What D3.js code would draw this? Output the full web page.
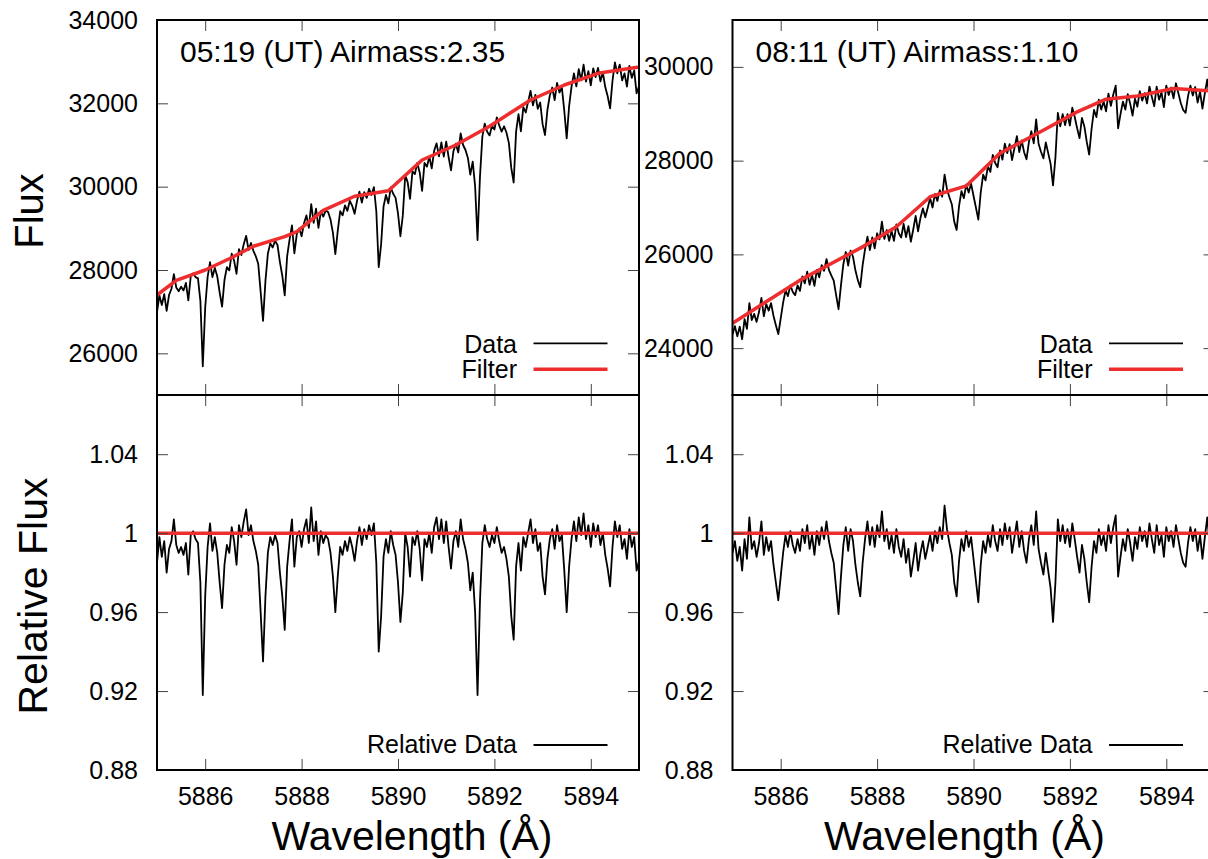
<!DOCTYPE html>
<html>
<head>
<meta charset="utf-8">
<script src="https://cdn.jsdelivr.net/npm/d3@7"></script>
<style>
  body { margin: 0; background: #fff; }
  svg { display: block; font-family: "Liberation Sans", Arial, Helvetica, sans-serif; }
</style>
</head>
<body>
<svg id="chart" width="1208" height="859"></svg>
<script>
// wavelength grid shared by all four spectra (Angstrom)
const wavelength = [
  5885.00, 5885.05, 5885.10, 5885.15, 5885.20, 5885.25, 5885.30, 5885.35, 5885.40, 5885.45,
  5885.50, 5885.55, 5885.60, 5885.65, 5885.70, 5885.75, 5885.80, 5885.85, 5885.90, 5885.95,
  5886.00, 5886.05, 5886.10, 5886.15, 5886.20, 5886.25, 5886.30, 5886.35, 5886.40, 5886.45,
  5886.50, 5886.55, 5886.60, 5886.65, 5886.70, 5886.75, 5886.80, 5886.85, 5886.90, 5886.95,
  5887.00, 5887.05, 5887.10, 5887.15, 5887.20, 5887.25, 5887.30, 5887.35, 5887.40, 5887.45,
  5887.50, 5887.55, 5887.60, 5887.65, 5887.70, 5887.75, 5887.80, 5887.85, 5887.90, 5887.95,
  5888.00, 5888.05, 5888.10, 5888.15, 5888.20, 5888.25, 5888.30, 5888.35, 5888.40, 5888.45,
  5888.50, 5888.55, 5888.60, 5888.65, 5888.70, 5888.75, 5888.80, 5888.85, 5888.90, 5888.95,
  5889.00, 5889.05, 5889.10, 5889.15, 5889.20, 5889.25, 5889.30, 5889.35, 5889.40, 5889.45,
  5889.50, 5889.55, 5889.60, 5889.65, 5889.70, 5889.75, 5889.80, 5889.85, 5889.90, 5889.95,
  5890.00, 5890.05, 5890.10, 5890.15, 5890.20, 5890.25, 5890.30, 5890.35, 5890.40, 5890.45,
  5890.50, 5890.55, 5890.60, 5890.65, 5890.70, 5890.75, 5890.80, 5890.85, 5890.90, 5890.95,
  5891.00, 5891.05, 5891.10, 5891.15, 5891.20, 5891.25, 5891.30, 5891.35, 5891.40, 5891.45,
  5891.50, 5891.55, 5891.60, 5891.65, 5891.70, 5891.75, 5891.80, 5891.85, 5891.90, 5891.95,
  5892.00, 5892.05, 5892.10, 5892.15, 5892.20, 5892.25, 5892.30, 5892.35, 5892.40, 5892.45,
  5892.50, 5892.55, 5892.60, 5892.65, 5892.70, 5892.75, 5892.80, 5892.85, 5892.90, 5892.95,
  5893.00, 5893.05, 5893.10, 5893.15, 5893.20, 5893.25, 5893.30, 5893.35, 5893.40, 5893.45,
  5893.50, 5893.55, 5893.60, 5893.65, 5893.70, 5893.75, 5893.80, 5893.85, 5893.90, 5893.95,
  5894.00, 5894.05, 5894.10, 5894.15, 5894.20, 5894.25, 5894.30, 5894.35, 5894.40, 5894.45,
  5894.50, 5894.55, 5894.60, 5894.65, 5894.70, 5894.75, 5894.80, 5894.85, 5894.90, 5894.95,
  5895.00
];

// 05:19 UT, airmass 2.35
const fluxLeft = [
  26990, 27390, 27160, 27420, 27020, 27400, 27550, 27900, 27580, 27490,
  27600, 27510, 27690, 27270, 27850, 27920, 27830, 27800, 27260, 25690,
  27100, 27830, 28190, 27830, 28050, 27850, 27460, 27120, 27760, 28070,
  27990, 28390, 28220, 27910, 28500, 28360, 28620, 28820, 28480, 28650,
  28460, 28330, 28150, 27480, 26780, 27740, 28390, 28640, 28540, 28700,
  28600, 28190, 27860, 27390, 28330, 28730, 29070, 28400, 28860, 29000,
  28810, 29120, 29310, 29010, 29580, 29130, 29470, 29010, 29410, 29280,
  29430, 29390, 29210, 28890, 28380, 28940, 29410, 29310, 29550, 29420,
  29660, 29540, 29350, 29660, 29880, 29620, 29870, 29730, 29950, 29800,
  29990, 29410, 28070, 28620, 29520, 29800, 29600, 29980, 29830, 29730,
  29360, 28810, 29310, 30270, 30110, 29710, 30370, 30300, 30570, 30340,
  29900, 30570, 30480, 30720, 30440, 30860, 31040, 30730, 31060, 30720,
  31080, 30710, 30390, 30850, 31030, 30820, 31280, 31000, 30880, 30690,
  30290, 30600, 30010, 28720, 30220, 31200, 31510, 31320, 31230, 31460,
  31370, 31660, 31470, 31320, 31450, 31300, 31050, 30450, 30100, 31320,
  31740, 31330, 31910, 31780, 32040, 32300, 31950, 32200, 31870, 32020,
  31500, 31240, 31840, 32190, 32380, 32080, 32490, 32260, 32380, 31820,
  31160, 31930, 32400, 32720, 32410, 32820, 32550, 32930, 32520, 32770,
  32430, 32840, 32630, 32850, 32530, 32740, 32390, 32170, 31880, 32540,
  32980, 32720, 32930, 32550, 32720, 32400, 32900, 32610, 32790, 32240,
  32410
];
const relLeft = [
  0.985, 0.998, 0.988, 0.996, 0.980, 0.992, 0.996, 1.007, 0.994, 0.990,
  0.993, 0.989, 0.995, 0.979, 0.999, 1.001, 0.997, 0.995, 0.975, 0.918,
  0.968, 0.993, 1.005, 0.991, 0.998, 0.990, 0.975, 0.962, 0.984, 0.994,
  0.990, 1.003, 0.996, 0.984, 1.004, 0.998, 1.006, 1.012, 0.999, 1.004,
  0.996, 0.991, 0.984, 0.960, 0.935, 0.968, 0.990, 0.998, 0.994, 0.999,
  0.995, 0.980, 0.968, 0.951, 0.983, 0.996, 1.007, 0.983, 0.998, 1.001,
  0.993, 1.002, 1.007, 0.995, 1.013, 0.996, 1.006, 0.989, 1.001, 0.995,
  0.999, 0.997, 0.990, 0.978, 0.960, 0.978, 0.993, 0.989, 0.996, 0.991,
  0.998, 0.993, 0.986, 0.996, 1.003, 0.994, 1.002, 0.997, 1.004, 0.999,
  1.005, 0.985, 0.940, 0.958, 0.988, 0.997, 0.990, 1.001, 0.994, 0.989,
  0.975, 0.955, 0.970, 1.000, 0.993, 0.978, 0.998, 0.994, 1.001, 0.992,
  0.976, 0.997, 0.993, 1.000, 0.990, 1.003, 1.008, 0.997, 1.007, 0.995,
  1.006, 0.993, 0.982, 0.996, 1.001, 0.993, 1.007, 0.997, 0.992, 0.985,
  0.971, 0.980, 0.960, 0.918, 0.965, 0.995, 1.004, 0.997, 0.993, 0.999,
  0.995, 1.003, 0.996, 0.990, 0.993, 0.987, 0.978, 0.958, 0.946, 0.983,
  0.995, 0.981, 0.998, 0.993, 1.000, 1.007, 0.995, 1.002, 0.991, 0.995,
  0.978, 0.969, 0.987, 0.997, 1.002, 0.992, 1.004, 0.996, 0.999, 0.981,
  0.960, 0.983, 0.997, 1.006, 0.996, 1.008, 0.999, 1.010, 0.997, 1.004,
  0.993, 1.005, 0.998, 1.004, 0.994, 1.000, 0.989, 0.982, 0.973, 0.993,
  1.006, 0.998, 1.004, 0.992, 0.997, 0.987, 1.002, 0.993, 0.998, 0.981,
  0.986
];
const filterLeftWl = [5885.0, 5885.4, 5886.0, 5886.5, 5887.0, 5887.65, 5887.9, 5888.45, 5889.1, 5889.8, 5890.5, 5891.2, 5891.9, 5892.75, 5893.45, 5894.15, 5895.0];
const filterLeftFlux = [27400, 27750, 28000, 28270, 28570, 28800, 28920, 29430, 29770, 29900, 30640, 31000, 31450, 32080, 32440, 32720, 32870];

// 08:11 UT, airmass 1.10
const fluxRight = [
  24290, 24470, 24250, 24460, 24190, 24620, 24410, 24960, 24600, 24730,
  24560, 24770, 25070, 24680, 24940, 24800, 24960, 24690, 24490, 24300,
  24630, 24970, 25230, 25110, 25340, 25200, 25130, 25340, 25220, 25530,
  25380, 25630, 25350, 25560, 25330, 25670, 25510, 25770, 25650, 25900,
  25670, 25550, 25440, 25130, 24830, 25340, 25790, 26050, 25760, 26080,
  25950, 25660, 25450, 25300, 25770, 26110, 26380, 26090, 26360, 26130,
  26450, 26320, 26700, 26330, 26520, 26290, 26500, 26290, 26640, 26450,
  26360, 26650, 26370, 26600, 26270, 26530, 26820, 26490, 26780, 26980,
  26790, 26990, 27200, 27000, 27290, 27140, 27370, 27230, 27700, 27390,
  27220, 27070, 26700, 26520, 27030, 27350, 27200, 27490, 27320, 27510,
  27250, 27000, 26740, 27320, 27700, 27580, 27880, 27760, 28120, 27950,
  27860, 28220, 28020, 28360, 28160, 28350, 28010, 28270, 28520, 28180,
  28430, 28180, 28030, 28400, 28630, 28370, 28880, 28360, 28190, 28050,
  28390, 28160, 27930, 27470, 28070, 29020, 28730, 28990, 28760, 28990,
  28750, 29130, 28930, 28690, 28480, 28910, 28730, 28400, 28130, 28680,
  29080, 28930, 29300, 29090, 29260, 29050, 29430, 29170, 29410, 29600,
  28690, 28990, 29260, 29090, 29420, 29220, 28960, 29320, 29150, 29480,
  29280, 29440, 29220, 29580, 29360, 29160, 29580, 29300, 29460, 29140,
  29600, 29400, 29560, 29330, 29650, 29440, 29230, 29080, 29020, 29370,
  29600, 29390, 29570, 29240, 29470, 29110, 29440, 29730, 29310, 29510,
  29330
];
const relRight = [
  0.990, 0.996, 0.986, 0.993, 0.981, 0.997, 0.987, 1.008, 0.992, 0.996,
  0.988, 0.995, 1.006, 0.989, 0.998, 0.991, 0.996, 0.984, 0.975, 0.966,
  0.978, 0.990, 0.999, 0.993, 1.001, 0.994, 0.990, 0.997, 0.991, 1.002,
  0.995, 1.004, 0.992, 0.999, 0.989, 1.001, 0.994, 1.003, 0.997, 1.006,
  0.996, 0.990, 0.985, 0.972, 0.959, 0.978, 0.994, 1.003, 0.991, 1.002,
  0.996, 0.984, 0.975, 0.968, 0.985, 0.997, 1.006, 0.994, 1.003, 0.993,
  1.004, 0.998, 1.011, 0.996, 1.002, 0.992, 0.999, 0.990, 1.002, 0.993,
  0.988, 0.997, 0.985, 0.992, 0.978, 0.986, 0.995, 0.981, 0.990, 0.996,
  0.987, 0.993, 0.999, 0.991, 1.001, 0.995, 1.003, 0.997, 1.014, 1.002,
  0.995, 0.989, 0.975, 0.968, 0.986, 0.997, 0.991, 1.001, 0.993, 0.998,
  0.987, 0.976, 0.965, 0.984, 0.996, 0.990, 0.999, 0.993, 1.004, 0.996,
  0.991, 1.002, 0.994, 1.005, 0.997, 1.003, 0.990, 0.998, 1.006, 0.993,
  1.001, 0.991, 0.985, 0.997, 1.004, 0.994, 1.011, 0.992, 0.985, 0.979,
  0.990, 0.981, 0.972, 0.955, 0.975, 1.007, 0.996, 1.004, 0.995, 1.002,
  0.993, 1.005, 0.997, 0.988, 0.980, 0.994, 0.987, 0.975, 0.965, 0.983,
  0.996, 0.990, 1.002, 0.994, 0.999, 0.991, 1.004, 0.995, 1.003, 1.009,
  0.978, 0.988, 0.997, 0.991, 1.002, 0.995, 0.986, 0.998, 0.992, 1.003,
  0.996, 1.001, 0.993, 1.005, 0.997, 0.990, 1.004, 0.994, 0.999, 0.988,
  1.003, 0.996, 1.001, 0.993, 1.004, 0.997, 0.990, 0.985, 0.983, 0.995,
  1.003, 0.996, 1.002, 0.991, 0.999, 0.987, 0.998, 1.008, 0.994, 1.001,
  0.995
];
const filterRightWl = [5885.0, 5886.4, 5887.7, 5888.4, 5889.1, 5889.85, 5890.55, 5891.4, 5892.15, 5892.75, 5893.4, 5894.15, 5895.0];
const filterRightFlux = [24530, 25450, 26160, 26590, 27230, 27460, 28160, 28620, 29040, 29310, 29380, 29540, 29480];

// relative filter (flat at unity)
const relFilterWl = [5885, 5895];
const relFilterValue = [1, 1];

// axes and labels
const titles = ['05:19 (UT) Airmass:2.35', '08:11 (UT) Airmass:1.10'];
const xTicks = [5886, 5888, 5890, 5892, 5894];
const fluxTicksLeft = [26000, 28000, 30000, 32000, 34000];
const fluxTicksRight = [24000, 26000, 28000, 30000];
const relTicks = [0.88, 0.92, 0.96, 1, 1.04];

const svg = d3.select('#chart');
const frame = {top: 20, mid: 395, bottom: 770, width: 482};
const red = '#ee2e2e';
const tickLen = 11;

const panels = [
    {left: 157, title: titles[0], flux: fluxLeft, rel: relLeft, fWl: filterLeftWl, fFlux: filterLeftFlux,
     fluxDomain: [25000, 34000], fluxTicks: fluxTicksLeft, xLabelCenter: 412},
    {left: 732.5, title: titles[1], flux: fluxRight, rel: relRight, fWl: filterRightWl, fFlux: filterRightFlux,
     fluxDomain: [23000, 31000], fluxTicks: fluxTicksRight, xLabelCenter: 964.5}
];

function styleAxis(g, size) {
    g.select('.domain').remove();
    g.selectAll('.tick line').attr('stroke', '#444').attr('stroke-width', 1);
    g.selectAll('.tick text').attr('fill', '#000').style('font-size', size + 'px')
        .style('font-family', '"Liberation Sans", Arial, Helvetica, sans-serif');
}

function drawPanel(p, k) {
    const right = p.left + frame.width;
    const x = d3.scaleLinear().domain([5885, 5895]).range([p.left, right]);
    const yTop = d3.scaleLinear().domain(p.fluxDomain).range([frame.mid, frame.top]);
    const yBot = d3.scaleLinear().domain([0.88, 1.07]).range([frame.bottom, frame.mid]);

    const clipId = 'clip' + k;
    svg.append('clipPath').attr('id', clipId).append('rect')
        .attr('x', p.left).attr('y', frame.top)
        .attr('width', frame.width).attr('height', frame.bottom - frame.top);

    const plot = svg.append('g').attr('clip-path', 'url(#' + clipId + ')');

    const topLine = d3.line().x(d => x(d[0])).y(d => yTop(d[1]));
    const botLine = d3.line().x(d => x(d[0])).y(d => yBot(d[1]));

    // top: data and filter
    plot.append('path').datum(d3.zip(wavelength, p.flux)).attr('d', topLine)
        .attr('fill', 'none').attr('stroke', '#000').attr('stroke-width', 1.8).attr('stroke-linejoin', 'round');
    plot.append('path').datum(d3.zip(p.fWl, p.fFlux)).attr('d', topLine)
        .attr('fill', 'none').attr('stroke', red).attr('stroke-width', 3.5).attr('stroke-linejoin', 'round');

    // bottom: relative data and unity line
    plot.append('path').datum(d3.zip(wavelength, p.rel)).attr('d', botLine)
        .attr('fill', 'none').attr('stroke', '#000').attr('stroke-width', 1.8).attr('stroke-linejoin', 'round');
    plot.append('path').datum(d3.zip(relFilterWl, relFilterValue)).attr('d', botLine)
        .attr('fill', 'none').attr('stroke', red).attr('stroke-width', 3.5);

    // ticks, all pointing inward
    svg.append('g').attr('transform', `translate(${p.left},0)`)
        .call(d3.axisLeft(yTop).tickValues(p.fluxTicks).tickSize(-tickLen).tickPadding(19).tickFormat(d3.format('d')))
        .call(g => styleAxis(g, 25));
    svg.append('g').attr('transform', `translate(${right},0)`)
        .call(d3.axisRight(yTop).tickValues(p.fluxTicks).tickSize(-tickLen).tickFormat(''))
        .call(g => styleAxis(g, 25));
    svg.append('g').attr('transform', `translate(${p.left},0)`)
        .call(d3.axisLeft(yBot).tickValues(relTicks).tickSize(-tickLen).tickPadding(19).tickFormat(d => String(+d.toFixed(2))))
        .call(g => styleAxis(g, 25));
    svg.append('g').attr('transform', `translate(${right},0)`)
        .call(d3.axisRight(yBot).tickValues(relTicks).tickSize(-tickLen).tickFormat(''))
        .call(g => styleAxis(g, 25));

    svg.append('g').attr('transform', `translate(0,${frame.top})`)
        .call(d3.axisTop(x).tickValues(xTicks).tickSize(-tickLen).tickFormat(''))
        .call(g => styleAxis(g, 25));
    svg.append('g').attr('transform', `translate(0,${frame.mid})`)
        .call(d3.axisBottom(x).tickValues(xTicks).tickSize(-tickLen).tickFormat(''))
        .call(g => styleAxis(g, 25));
    svg.append('g').attr('transform', `translate(0,${frame.mid})`)
        .call(d3.axisTop(x).tickValues(xTicks).tickSize(-tickLen).tickFormat(''))
        .call(g => styleAxis(g, 25));
    svg.append('g').attr('transform', `translate(0,${frame.bottom})`)
        .call(d3.axisBottom(x).tickValues(xTicks).tickSize(-tickLen).tickPadding(17).tickFormat(d3.format('d')))
        .call(g => styleAxis(g, 25));

    // frames
    [[frame.top, frame.mid], [frame.mid, frame.bottom]].forEach(r => {
        svg.append('rect').attr('x', p.left).attr('y', r[0])
            .attr('width', frame.width).attr('height', r[1] - r[0])
            .attr('fill', 'none').attr('stroke', '#000').attr('stroke-width', 2);
    });

    // title
    svg.append('text').attr('x', p.left + 23).attr('y', 62)
        .style('font-size', '30px').text(p.title);

    // legends
    const legX = right - 122, lineA = right - 105.5, lineB = right - 31.5;
    const legend = [
        {label: 'Data', y: 352.7, ly: 343.3, color: '#000', w: 1.8},
        {label: 'Filter', y: 378, ly: 369.3, color: red, w: 3.5},
        {label: 'Relative Data', y: 753, ly: 745, color: '#000', w: 1.8}
    ];
    legend.forEach(l => {
        svg.append('text').attr('x', legX).attr('y', l.y).attr('text-anchor', 'end')
            .style('font-size', '25px').text(l.label);
        svg.append('line').attr('x1', lineA).attr('x2', lineB).attr('y1', l.ly).attr('y2', l.ly)
            .attr('stroke', l.color).attr('stroke-width', l.w);
    });

    // x axis title
    svg.append('text').attr('x', p.xLabelCenter).attr('y', 850).attr('text-anchor', 'middle')
        .style('font-size', '41px').text('Wavelength (Å)');
}

panels.forEach((p, k) => drawPanel(p, k));

// y axis titles
svg.append('text').attr('transform', 'translate(43,211) rotate(-90)').attr('text-anchor', 'middle')
    .style('font-size', '40px').text('Flux');
svg.append('text').attr('transform', 'translate(47,596) rotate(-90)').attr('text-anchor', 'middle')
    .style('font-size', '41px').text('Relative Flux');
</script>
</body>
</html>
